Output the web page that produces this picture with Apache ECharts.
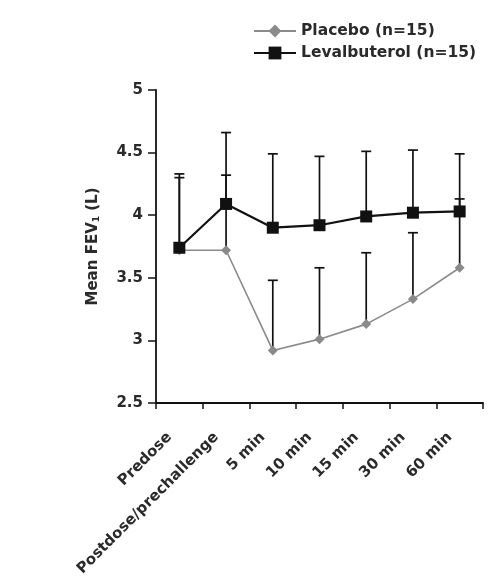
<!DOCTYPE html>
<html><head><meta charset="utf-8">
<script src="https://cdn.jsdelivr.net/npm/echarts@6/dist/echarts.min.js"></script>
<style>html,body{margin:0;padding:0;background:#fff}#c{width:489px;height:585px}</style>
</head><body><div id="c"></div>
<script>
const categories = ['Predose','Postdose/prechallenge','5 min','10 min','15 min','30 min','60 min'];
const placebo = [3.72, 3.72, 2.92, 3.01, 3.13, 3.33, 3.58];
const placeboUpper = [4.30, 4.32, 3.48, 3.58, 3.70, 3.86, 4.13];
const levalbuterol = [3.74, 4.09, 3.90, 3.92, 3.99, 4.02, 4.03];
const levalbuterolUpper = [4.33, 4.66, 4.49, 4.47, 4.51, 4.52, 4.49];
const yTicks = {min: 2.5, max: 5, interval: 0.5};

const FONT = '"DejaVu Sans", Verdana, sans-serif';
const TXT = '#2a2a2a';

function errBars(vals, ups) {
  return vals.map((v, i) => [i, v, ups[i]]);
}
function renderErr(params, api) {
  const i = api.value(0);
  const p0 = api.coord([i, api.value(1)]);
  const p1 = api.coord([i, api.value(2)]);
  const hw = 5;
  const st = {stroke: '#111', lineWidth: 1.7};
  return {type: 'group', children: [
    {type: 'line', shape: {x1: p0[0], y1: p0[1], x2: p1[0], y2: p1[1]}, style: st},
    {type: 'line', shape: {x1: p1[0] - hw, y1: p1[1], x2: p1[0] + hw, y2: p1[1]}, style: st}
  ]};
}

const chart = echarts.init(document.getElementById('c'), null, {renderer: 'canvas'});
chart.setOption({
  animation: false,
  backgroundColor: '#fff',
  grid: {left: 156, right: 6, top: 90, bottom: 182, containLabel: false},
  legend: {
    orient: 'vertical', left: 253, top: 23, padding: 0,
    itemWidth: 42, itemHeight: 16, itemGap: 6, itemTextGap: 3,
    data: ['Placebo (n=15)', 'Levalbuterol (n=15)'],
    textStyle: {fontFamily: FONT, fontSize: 15.5, fontWeight: 'bold', color: TXT}
  },
  xAxis: {
    type: 'category', data: categories, boundaryGap: true,
    axisLine: {lineStyle: {color: '#111', width: 1.8}},
    axisTick: {show: true, length: 6, lineStyle: {color: '#111', width: 1.5}, alignWithLabel: false},
    axisLabel: {interval: 0, rotate: 45, margin: 22, padding: [0, 14, 0, 0], fontFamily: FONT, fontSize: 15, fontWeight: 'bold', color: TXT}
  },
  yAxis: {
    type: 'value', min: yTicks.min, max: yTicks.max, interval: yTicks.interval,
    name: 'Mean FEV{sub|1} (L)', nameLocation: 'middle', nameGap: 55,
    nameTextStyle: {fontFamily: FONT, fontSize: 15, fontWeight: 'bold', color: TXT,
      rich: {sub: {fontFamily: FONT, fontSize: 9, fontWeight: 'bold', color: TXT, verticalAlign: 'bottom', padding: [6, 0, 0, 0]}}},
    splitLine: {show: false},
    axisLine: {show: true, lineStyle: {color: '#111', width: 1.8}},
    axisTick: {show: true, length: 8, lineStyle: {color: '#111', width: 1.5}},
    axisLabel: {margin: 13, fontFamily: FONT, fontSize: 15, fontWeight: 'bold', color: TXT}
  },
  series: [
    {type: 'custom', name: 'errP', data: errBars(placebo, placeboUpper), renderItem: renderErr, z: 1, silent: true},
    {type: 'custom', name: 'errL', data: errBars(levalbuterol, levalbuterolUpper), renderItem: renderErr, z: 1, silent: true},
    {type: 'line', name: 'Placebo (n=15)', data: placebo, symbol: 'diamond', symbolSize: 10,
      lineStyle: {color: '#8a8a8a', width: 1.6}, itemStyle: {color: '#8a8a8a'}, z: 3},
    {type: 'line', name: 'Levalbuterol (n=15)', data: levalbuterol, symbol: 'rect', symbolSize: 12,
      lineStyle: {color: '#111', width: 2.2}, itemStyle: {color: '#111'}, z: 4}
  ]
});
</script></body></html>
